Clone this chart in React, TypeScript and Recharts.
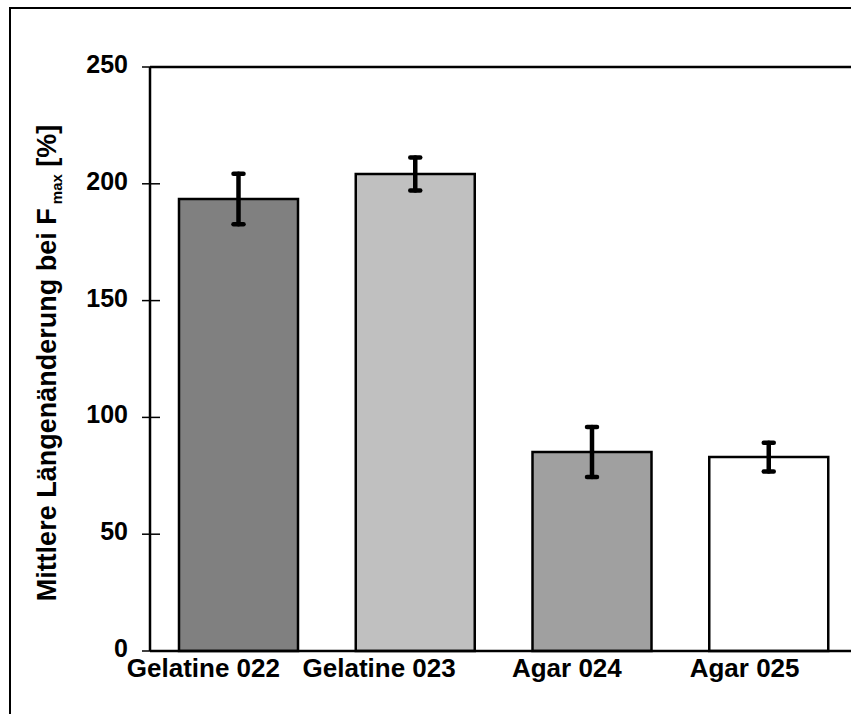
import React from 'react';
import { BarChart, Bar, Cell, XAxis, YAxis, ErrorBar, ReferenceLine } from 'recharts';

// Mittlere Längenänderung bei Fmax
const samples = ['Gelatine 022', 'Gelatine 023', 'Agar 024', 'Agar 025'];
const meanValues = [193.5, 204.2, 85.2, 83.0];
const stdDev = [10.8, 7.1, 10.7, 6.2];
const barColors = ['#808080', '#c0c0c0', '#a0a0a0', '#ffffff'];
const yTicks = [0, 50, 100, 150, 200, 250];

const FONT = '"Liberation Sans", Arial, sans-serif';

// Beschriftungen stehen im Original etwas links versetzt
const labelShift = [-35, -36, -25, -24];

const chartData = samples.map((name, i) => ({
  name,
  value: meanValues[i],
  err: stdDev[i],
}));

const YTick = (props: any) => {
  const { x, y, payload } = props;
  return (
    <g>
      <line x1={x - 8} x2={x + 10} y1={y} y2={y} stroke="#000" strokeWidth={1.5} />
      <text
        x={x - 22}
        y={y + 6}
        textAnchor="end"
        fontFamily={FONT}
        fontWeight="bold"
        fontSize={25}
        fill="#000"
      >
        {payload.value}
      </text>
    </g>
  );
};

const XTick = (props: any) => {
  const { x, y, payload, index } = props;
  return (
    <text
      x={x + (labelShift[index] ?? 0)}
      y={y + 26}
      textAnchor="middle"
      fontFamily={FONT}
      fontWeight="bold"
      fontSize={26}
      fill="#000"
    >
      {payload.value}
    </text>
  );
};

const YLabel = (props: any) => {
  const { viewBox } = props;
  const cy = viewBox.y + viewBox.height / 2 + 4;
  const bx = 56;
  return (
    <text
      x={bx}
      y={cy}
      transform={`rotate(-90, ${bx}, ${cy})`}
      textAnchor="middle"
      fontFamily={FONT}
      fontWeight="bold"
      fontSize={27}
      fill="#000"
    >
      Mittlere Längenänderung bei F
      <tspan fontSize={15} dy={6}> max</tspan>
      <tspan dy={-6}> [%]</tspan>
    </text>
  );
};

export default function App() {
  return (
    <div
      style={{
        position: 'fixed',
        left: 0,
        top: 0,
        width: 851,
        height: 714,
        overflow: 'hidden',
        background: '#fff',
      }}
    >
      <div
        style={{
          position: 'absolute',
          left: 9,
          top: 7,
          width: 1000,
          height: 1000,
          border: '2px solid #000',
        }}
      />
      <div style={{ position: 'absolute', left: 0, top: 0 }}>
        <BarChart
          width={900}
          height={714}
          data={chartData}
          margin={{ top: 67, right: 43, left: 0, bottom: 0 }}
          barCategoryGap={29}
        >
          <XAxis
            dataKey="name"
            axisLine={{ stroke: '#000', strokeWidth: 2.5 }}
            tickLine={false}
            tickSize={0}
            tickMargin={0}
            height={63}
            interval={0}
            tick={<XTick />}
          />
          <YAxis
            domain={[0, 250]}
            ticks={yTicks}
            width={150}
            axisLine={{ stroke: '#000', strokeWidth: 2.5 }}
            tickLine={false}
            tickSize={0}
            tickMargin={0}
            tick={<YTick />}
            label={<YLabel />}
          />
          <ReferenceLine y={250} stroke="#000" strokeWidth={2.5} />
          <Bar dataKey="value" stroke="#000" strokeWidth={2.5} isAnimationActive={false}>
            {chartData.map((d, i) => (
              <Cell key={d.name} fill={barColors[i]} />
            ))}
            <ErrorBar
              dataKey="err"
              direction="y"
              width={5}
              stroke="#000"
              strokeWidth={4.5}
              strokeLinecap="round"
              isAnimationActive={false}
            />
          </Bar>
        </BarChart>
      </div>
    </div>
  );
}
